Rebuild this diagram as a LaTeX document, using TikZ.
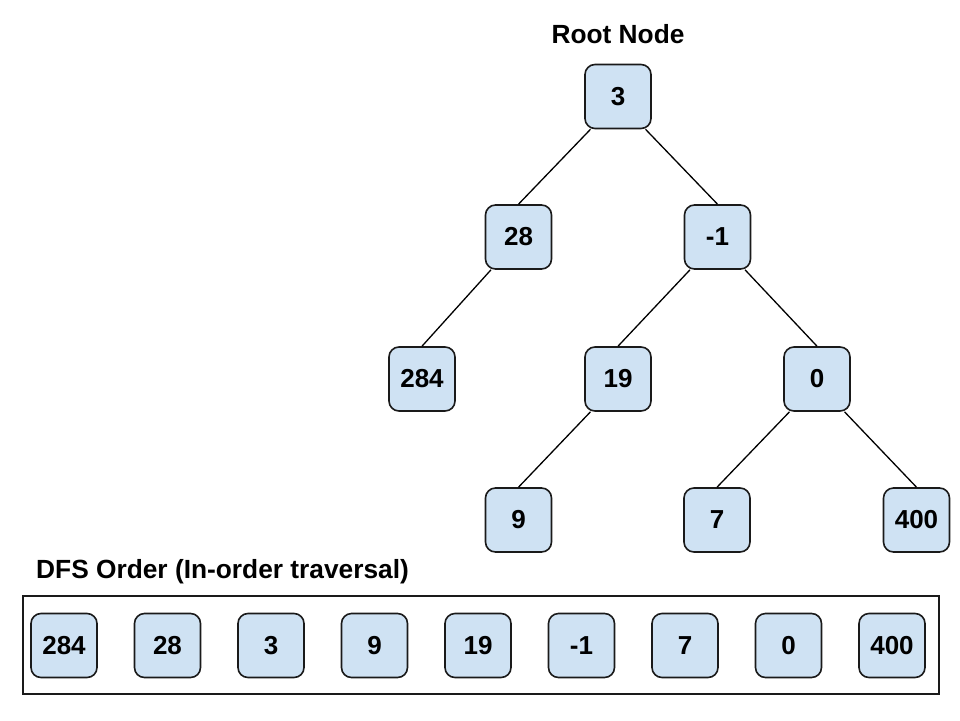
\documentclass[tikz,border=0pt]{standalone}
\usepackage{fontspec}
\setmainfont{Liberation Sans}
\definecolor{boxfill}{HTML}{CFE2F3}
\definecolor{boxline}{HTML}{1A1A1A}
\tikzset{
  valbox/.style={draw=boxline, line width=1.6pt, fill=boxfill, rounded corners=10pt,
    minimum width=66pt, minimum height=64pt, inner sep=0pt,
    font=\fontsize{26}{31}\selectfont\bfseries},
  edge/.style={draw=black, line width=1.3pt},
  heading/.style={font=\fontsize{26.3}{31}\selectfont\bfseries, inner sep=0pt},
  frame/.style={draw=boxline, line width=1.5pt}
}
\begin{document}
\begin{tikzpicture}[x=1pt,y=-1pt]
\useasboundingbox (0,0) rectangle (960,720);
% tree
\node[heading] (title) at (618,34) {Root Node};
\node[valbox] (r3) at (618,96.5) {3};
\node[valbox] (n28) at (518.5,237) {28};
\node[valbox] (m1) at (717.5,237) {-1};
\node[valbox] (n284) at (422,379) {284};
\node[valbox] (n19) at (618,379) {19};
\node[valbox] (n0) at (817,379) {0};
\node[valbox] (n9) at (518.5,520) {9};
\node[valbox] (n7) at (717,520) {7};
\node[valbox] (n400) at (916.5,520) {400};
\draw[edge] (r3.-130) -- (n28.north);
\draw[edge] (r3.-50) -- (m1.north);
\draw[edge] (n28.-130) -- (n284.north);
\draw[edge] (m1.-130) -- (n19.north);
\draw[edge] (m1.-50) -- (n0.north);
\draw[edge] (n19.-130) -- (n9.north);
\draw[edge] (n0.-130) -- (n7.north);
\draw[edge] (n0.-50) -- (n400.north);
% traversal order
\node[heading, anchor=west] (dfs) at (36,572) {DFS Order (In-order traversal)};
\node[frame, minimum width=916pt, minimum height=98pt, inner sep=0pt] (row) at (481,645) {};
\node[valbox] (o1) at (64,645.5) {284};
\node[valbox] (o2) at (167.5,645.5) {28};
\node[valbox] (o3) at (271,645.5) {3};
\node[valbox] (o4) at (374.5,645.5) {9};
\node[valbox] (o5) at (478,645.5) {19};
\node[valbox] (o6) at (581.5,645.5) {-1};
\node[valbox] (o7) at (685,645.5) {7};
\node[valbox] (o8) at (788.5,645.5) {0};
\node[valbox] (o9) at (892,645.5) {400};
\end{tikzpicture}
\end{document}
